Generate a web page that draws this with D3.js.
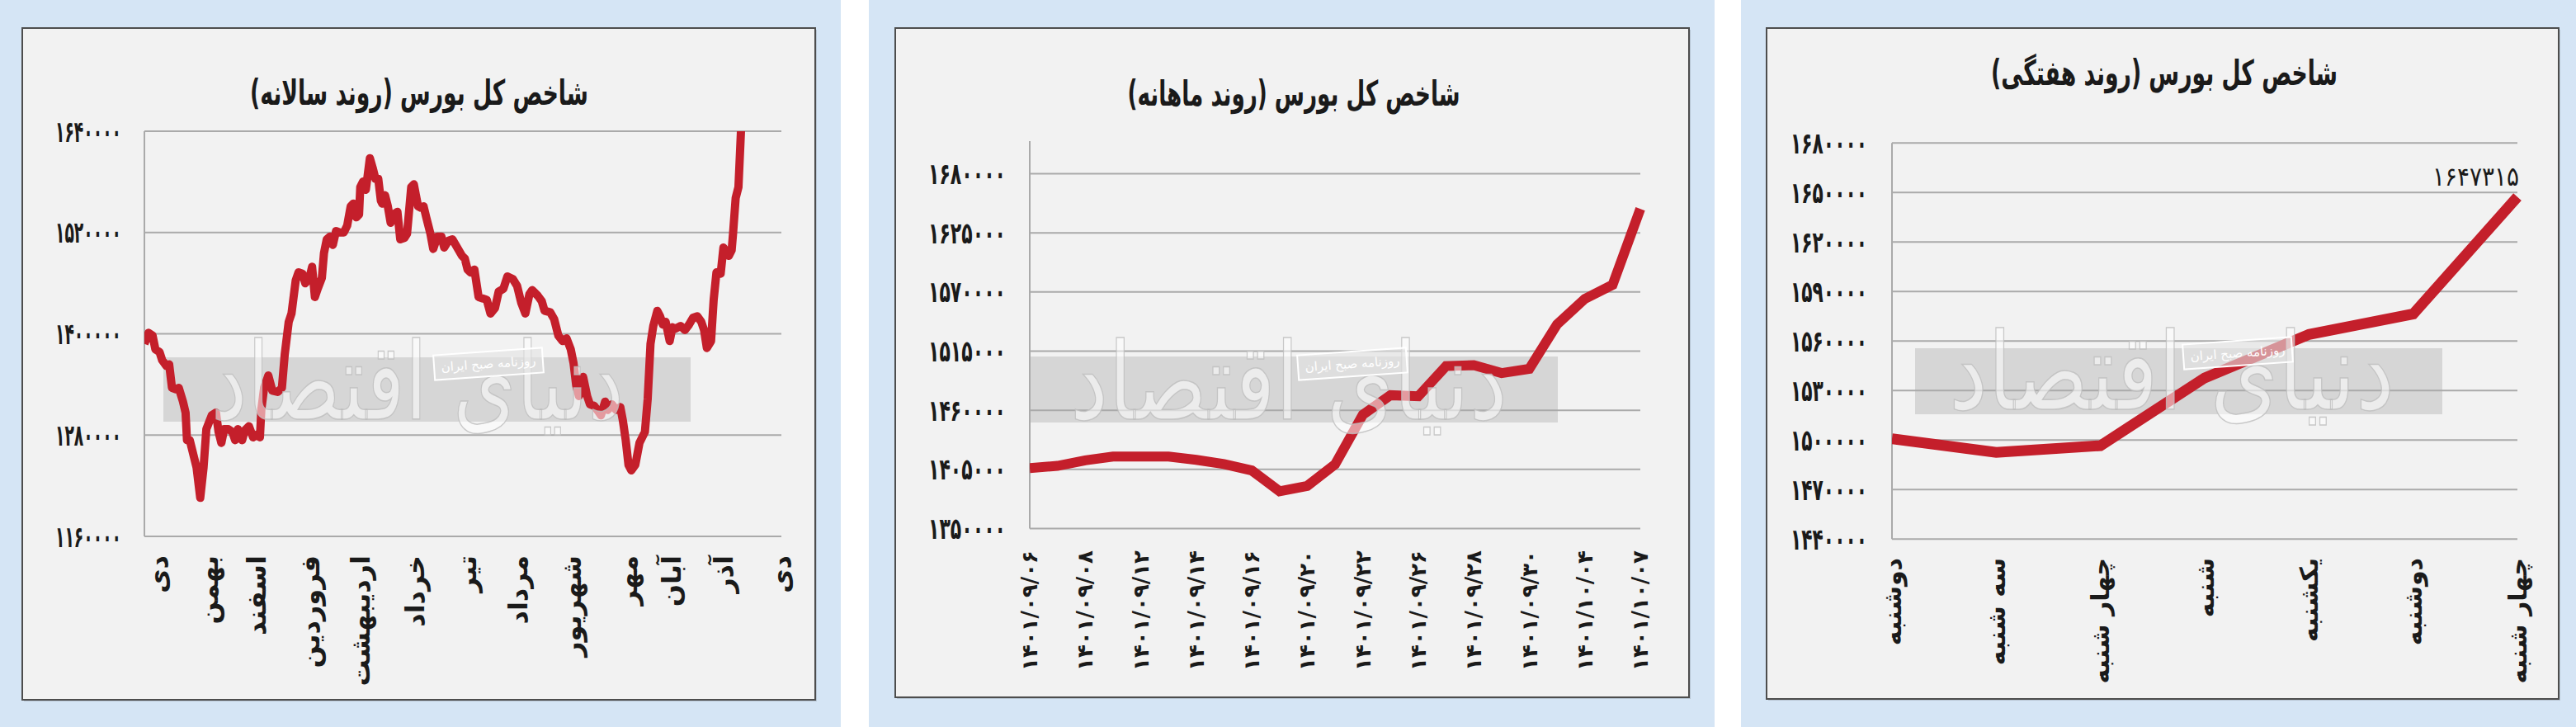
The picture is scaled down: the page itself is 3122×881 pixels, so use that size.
<!DOCTYPE html>
<html><head><meta charset="utf-8">
<script src="https://cdn.jsdelivr.net/npm/d3@7"></script>
<style>html,body{margin:0;padding:0;background:#fff;}svg{display:block;}</style>
</head><body>
<svg id="c" width="3122" height="881"></svg>
<script>
// ---------- DATA ----------
// Panel 1: yearly trend (day offset from start of axis, index value)
const yearTitle = "شاخص کل بورس (روند سالانه)";
const yearMonths = ["دی","بهمن","اسفند","فروردین","اردیبهشت","خرداد","تیر","مرداد","شهریور","مهر","آبان","آذر","دی"];
const yearMonthDays = [8,37,64,95,124,155,185,214,245,277,302,332,365];
const yearTicks = [1160000,1280000,1400000,1520000,1640000];
const yearDays = [0,2.4,4.7,6.3,8.7,10.2,12.6,14.2,15.8,18.1,19.7,22.1,23.6,24.4,26.0,29.9,32.0,33.9,35.5,38.6,41.0,42.5,44.1,45.7,48.1,50.4,52.0,53.6,56.0,57.5,59.9,62.3,64.6,66.2,67.0,68.6,71.0,73.3,76.4,78.8,80.4,82.7,84.3,86.7,88.3,90.6,92.2,94.6,96.1,97.7,99.3,101.7,102.9,104.5,106.4,108.0,109.8,111.9,114.3,116.2,118.2,119.8,121.4,123.0,123.7,125.3,126.9,129.2,130.8,132.4,134.0,135.5,136.3,137.9,139.5,141.1,142.6,145.0,146.6,149.0,150.5,152.9,154.4,156.8,158.4,160.0,161.5,163.9,165.5,167.9,170.2,171.8,174.2,176.5,182.0,183.6,185.2,186.8,189.1,191.5,193.9,196.2,198.3,200.9,203.0,205.7,208.0,211.2,213.6,215.9,218.3,220.6,222.2,225.4,227.7,229.3,232.5,234.8,237.2,239.6,241.9,244.3,245.9,247.4,249.0,251.4,253.7,255.3,257.7,260.0,261.6,264.0,265.6,267.9,270.3,272.7,274.2,275.8,277.4,279.0,281.3,283.7,286.8,288.4,290.0,291.6,293.9,295.5,297.1,298.7,301.0,302.6,304.2,307.3,309.7,312.1,314.4,316.8,319.1,320.7,322.3,324.7,326.2,327.8,330.2,331.8,334.9,336.5,337.3,338.8,340.4,342.0];
const yearValues = [1388100,1401100,1397900,1381600,1378300,1368600,1362000,1363700,1336000,1334300,1336000,1319700,1306600,1274000,1274000,1241500,1205600,1241500,1287100,1303400,1306600,1283800,1270800,1287100,1287100,1283800,1274000,1287100,1274000,1285500,1290400,1277300,1280600,1277300,1309900,1336000,1350600,1332700,1331100,1336000,1375100,1414200,1424000,1463100,1472800,1471200,1459800,1466300,1479300,1443500,1453300,1466300,1495600,1511900,1515200,1505400,1521700,1520100,1520100,1528200,1551000,1554300,1538000,1541300,1573800,1580400,1570600,1608100,1596700,1583600,1583600,1557600,1554300,1564100,1551000,1531500,1541300,1544500,1511900,1513600,1518500,1573800,1577100,1551000,1549400,1551000,1538000,1518500,1500500,1515200,1515200,1502200,1510300,1511900,1492400,1489100,1476100,1472800,1476100,1443500,1441900,1440200,1424000,1430500,1450000,1453300,1467900,1464700,1456500,1437000,1424000,1446800,1451700,1445100,1438600,1427200,1425600,1417400,1397900,1391400,1394600,1381600,1365300,1339200,1326200,1349000,1326200,1316400,1314800,1308300,1303400,1319700,1309900,1316400,1309900,1313200,1296900,1274000,1244700,1238200,1244700,1270800,1283800,1322900,1388100,1409300,1427200,1420700,1410900,1414200,1391400,1407700,1406000,1409300,1404400,1410900,1419100,1420700,1414200,1404400,1383200,1391400,1440200,1472800,1471200,1502200,1492400,1498900,1518500,1560800,1573800,1647315];

// Panel 2: monthly trend
const monthTitle = "شاخص کل بورس (روند ماهانه)";
const monthLabels = ["1401/09/06","1401/09/08","1401/09/12","1401/09/14","1401/09/16","1401/09/20","1401/09/22","1401/09/26","1401/09/28","1401/09/30","1401/10/04","1401/10/07"];
const monthValues = [1406150,1408300,1413450,1416900,1416900,1416900,1413900,1410000,1404000,1384600,1389700,1409600,1455800,1474000,1473000,1501100,1502000,1494600,1498500,1539900,1563600,1576600,1647315];
const monthTicks = [1350000,1405000,1460000,1515000,1570000,1625000,1680000];

// Panel 3: weekly trend
const weekTitle = "شاخص کل بورس (روند هفتگی)";
const weekDays = ["دوشنبه","سه شنبه","چهار شنبه","شنبه","یکشنبه","دوشنبه","چهار شنبه"];
const weekValues = [1500800,1492500,1496600,1537700,1564000,1576400,1647315];
const weekTicks = [1440000,1470000,1500000,1530000,1560000,1590000,1620000,1650000,1680000];
const weekLastLabel = 1647315;

const watermarkText = "دنیای اقتصاد";
const watermarkSub = "روزنامه صبح ایران";

// ---------- STYLE ----------
const RED = "#c41f2b", GRID = "#aaaaaa", BLUE = "#d5e5f5", PANEL = "#f2f2f2";
const FONT = "'DejaVu Sans', sans-serif";
const fa = s => String(s).replace(/\d/g, d => "۰۱۲۳۴۵۶۷۸۹"[+d]);

const svg = d3.select("#c");
svg.append("rect").attr("width",3122).attr("height",881).attr("fill","#ffffff");
[[0,1019],[1053,2078],[2110,3122]].forEach(([a,b]) =>
  svg.append("rect").attr("x",a).attr("y",0).attr("width",b-a).attr("height",881).attr("fill",BLUE));

function panel(cfg){
  const g = svg.append("g");
  g.append("rect").attr("x",cfg.frame[0]+2).attr("y",cfg.frame[1]+2).attr("width",cfg.frame[2]).attr("height",cfg.frame[3])
    .attr("fill","#9aa6b2").attr("opacity",0.5);
  g.append("rect").attr("x",cfg.frame[0]).attr("y",cfg.frame[1]).attr("width",cfg.frame[2]).attr("height",cfg.frame[3])
    .attr("fill",PANEL).attr("stroke","#4d4d4d").attr("stroke-width",2);
  // title
  g.append("text").attr("x",cfg.title[0]).attr("y",cfg.title[1]).attr("text-anchor","middle")
    .attr("dominant-baseline","central").attr("font-family",FONT).attr("font-weight","bold")
    .attr("font-size",cfg.titleSize).attr("fill","#1a1a1a")
    .attr("textLength",cfg.title[2]).attr("lengthAdjust","spacingAndGlyphs").text(cfg.titleText);
  // watermark band
  const b = cfg.band;
  g.append("rect").attr("x",b[0]).attr("y",b[1]).attr("width",b[2]).attr("height",b[3]).attr("fill","#d6d6d6");
  // grid
  const y = cfg.y, x0 = cfg.xl, x1 = cfg.xr;
  g.selectAll(null).data(cfg.ticks).enter().append("line")
    .attr("x1",x0).attr("x2",x1).attr("y1",d=>y(d)).attr("y2",d=>y(d))
    .attr("stroke",GRID).attr("stroke-width",2);
  g.append("line").attr("x1",x0).attr("x2",x0).attr("y1",cfg.axisTop).attr("y2",y(cfg.ticks[0]))
    .attr("stroke",GRID).attr("stroke-width",2);
  // y labels
  g.selectAll(null).data(cfg.ticks).enter().append("text")
    .attr("x",cfg.ylabX).attr("y",d=>y(d)).attr("text-anchor","end").attr("dominant-baseline","central")
    .attr("font-family",FONT).attr("font-weight","bold").attr("font-size",cfg.ylabSize).attr("fill","#1a1a1a")
    .attr("textLength",cfg.ylabW).attr("lengthAdjust","spacingAndGlyphs")
    .text(d=>fa(d));
  // x labels
  g.selectAll(null).data(cfg.xlabels).enter().append("text")
    .attr("transform",d=>`translate(${d.x},${cfg.xlabY}) rotate(-90)`)
    .attr("dy","0.35em").attr("text-anchor","end")
    .attr("font-family",FONT).attr("font-weight","bold").attr("font-size",cfg.xlabSize).attr("fill","#1a1a1a")
    .text(d=>d.t);
  // line
  const clipId = "clip"+cfg.id;
  svg.append("clipPath").attr("id",clipId).append("rect")
    .attr("x",x0).attr("y",y.range()[1]).attr("width",x1-x0+10).attr("height",y.range()[0]-y.range()[1]);
  g.append("path").datum(cfg.points).attr("clip-path",`url(#${clipId})`)
    .attr("d",d3.line().x(d=>d[0]).y(d=>d[1]))
    .attr("fill","none").attr("stroke",RED).attr("stroke-width",cfg.lw)
    .attr("stroke-linejoin",cfg.join).attr("stroke-linecap","butt");
  // watermark text
  g.append("text").attr("x",cfg.wm[0]).attr("y",cfg.wm[1]).attr("text-anchor","middle")
    .attr("font-family",FONT).attr("font-size",130).attr("textLength",cfg.wm[2]).attr("lengthAdjust","spacingAndGlyphs")
    .attr("fill","#ffffff").attr("fill-opacity",0.55).attr("stroke","#bdbdbd").attr("stroke-width",1.5).attr("stroke-opacity",0.8)
    .text(watermarkText);
  const sb = g.append("g").attr("transform",`translate(${cfg.sub[0]},${cfg.sub[1]}) rotate(-4)`);
  sb.append("rect").attr("x",-66).attr("y",-15).attr("width",132).attr("height",30)
    .attr("fill","#e2e2e2").attr("fill-opacity",0.6).attr("stroke","#ffffff").attr("stroke-width",2);
  sb.append("text").attr("text-anchor","middle").attr("dominant-baseline","central")
    .attr("font-family",FONT).attr("font-size",15).attr("fill","#ffffff").text(watermarkSub);
  return g;
}

// Panel 1
{
  const y = d3.scaleLinear().domain([1160000,1640000]).range([650,159]);
  const x = d3.scaleLinear().domain([0,365]).range([175,947]);
  panel({id:1, frame:[27,34,961,814], title:[508,112,410], titleSize:42, titleText:yearTitle,
    band:[198,433,639,78], y, xl:175, xr:947, axisTop:159, ticks:yearTicks,
    ylabX:147, ylabSize:36, ylabW:80,
    xlabels: yearMonths.map((t,i)=>({t, x:x(yearMonthDays[i])})), xlabY:673, xlabSize:32,
    points: yearDays.map((d,i)=>[x(d), y(yearValues[i])]), lw:10, join:"round",
    wm:[506,508,500], sub:[592,441]});
}
// Panel 2
{
  const y = d3.scaleLinear().domain([1350000,1680000]).range([640.5,210.5]);
  const x = d3.scalePoint().domain(d3.range(monthValues.length)).range([1248,1988]);
  panel({id:2, frame:[1085,34,962,811], title:[1568,113,403], titleSize:42, titleText:monthTitle,
    band:[1249,432,639,80], y, xl:1248, xr:1988, axisTop:171, ticks:monthTicks,
    ylabX:1219, ylabSize:36, ylabW:94,
    xlabels: monthLabels.map((t,i)=>({t:fa(t), x:x(i*2)})), xlabY:667, xlabSize:26,
    points: monthValues.map((v,i)=>[x(i), y(v)]), lw:12, join:"miter",
    wm:[1562,508,530], sub:[1639,441]});
}
// Panel 3
{
  const y = d3.scaleLinear().domain([1440000,1680000]).range([653.3,173.3]);
  const x = d3.scalePoint().domain(d3.range(weekValues.length)).range([2293,3051]);
  const g = panel({id:3, frame:[2141,34,960,813], title:[2623,88,420], titleSize:42, titleText:weekTitle,
    band:[2321,422,639,80], y, xl:2293, xr:3051, axisTop:173.3, ticks:weekTicks,
    ylabX:2263, ylabSize:36, ylabW:93,
    xlabels: weekDays.map((t,i)=>({t, x:x(i)})), xlabY:676, xlabSize:30,
    points: weekValues.map((v,i)=>[x(i), y(v)]), lw:13, join:"miter",
    wm:[2632,496,540], sub:[2712,428]});
  g.append("text").attr("x",x(weekValues.length-1)+2).attr("y",225).attr("text-anchor","end")
    .attr("font-family",FONT).attr("font-size",32).attr("fill","#1a1a1a")
    .attr("textLength",105).attr("lengthAdjust","spacingAndGlyphs").text(fa(weekLastLabel));
}
</script>
</body></html>
